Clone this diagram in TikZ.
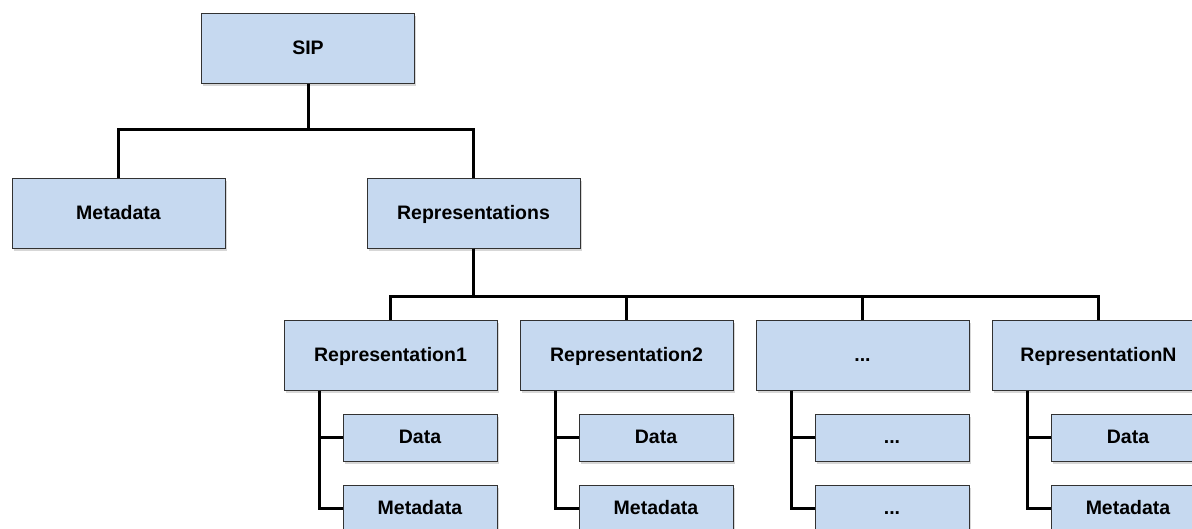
\documentclass[tikz,border=0pt]{standalone}
\usepackage{fontspec}
\setmainfont{Liberation Sans}
\usetikzlibrary{shadows}
\definecolor{boxblue}{RGB}{198,217,240}
\definecolor{boxline}{RGB}{50,50,50}

\begin{document}
\begin{tikzpicture}[x=1pt, y=-1pt,
	box/.style={shape=rectangle, draw=boxline, line width=1pt, fill=boxblue,
		drop shadow={shadow xshift=1.5pt, shadow yshift=-2.5pt, fill=black!35, opacity=0.45},
		minimum width=213pt, minimum height=70pt, inner sep=0pt,
		text height=16pt, text depth=4pt,
		font=\fontsize{19.5}{23}\selectfont\bfseries},
	subbox/.style={box, minimum width=154pt, minimum height=47pt},
	link/.style={draw=black, line width=3pt}]
	
	\useasboundingbox (0, 0) rectangle (1192, 528);
	
	\node[box] (sip)  at (308, 48.5)    {SIP};
	\node[box] (meta) at (118.5, 213)   {Metadata};
	\node[box] (reps) at (473.5, 213)   {Representations};
	
	\node[box] (rep1) at (390.5, 355)   {Representation1};
	\node[box] (rep2) at (626.5, 355)   {Representation2};
	\node[box] (rep3) at (862.5, 355)   {...};
	\node[box] (repn) at (1098.5, 355)  {RepresentationN};
	
	\node[subbox] (data1) at (420, 437.5)   {Data};
	\node[subbox] (meta1) at (420, 508.5)   {Metadata};
	\node[subbox] (data2) at (656, 437.5)   {Data};
	\node[subbox] (meta2) at (656, 508.5)   {Metadata};
	\node[subbox] (data3) at (892, 437.5)   {...};
	\node[subbox] (meta3) at (892, 508.5)   {...};
	\node[subbox] (datan) at (1128, 437.5)  {Data};
	\node[subbox] (metan) at (1128, 508.5)  {Metadata};
	
	\path[link] (sip.south) -- ++(0, 45) -| (meta.north);
	\path[link] (sip.south) -- ++(0, 45) -| (reps.north);
	
	\path[link] (reps.south) -- ++(0, 48) -| (rep1.north);
	\path[link] (reps.south) -- ++(0, 48) -| (rep2.north);
	\path[link] (reps.south) -- ++(0, 48) -| (rep3.north);
	\path[link] (reps.south) -- ++(0, 48) -| (repn.north);
	
	\path[link] ([xshift=36pt]rep1.south west) |- (data1.west);
	\path[link] ([xshift=36pt]rep1.south west) |- (meta1.west);
	\path[link] ([xshift=36pt]rep2.south west) |- (data2.west);
	\path[link] ([xshift=36pt]rep2.south west) |- (meta2.west);
	\path[link] ([xshift=36pt]rep3.south west) |- (data3.west);
	\path[link] ([xshift=36pt]rep3.south west) |- (meta3.west);
	\path[link] ([xshift=36pt]repn.south west) |- (datan.west);
	\path[link] ([xshift=36pt]repn.south west) |- (metan.west);
	
\end{tikzpicture}
\end{document}
